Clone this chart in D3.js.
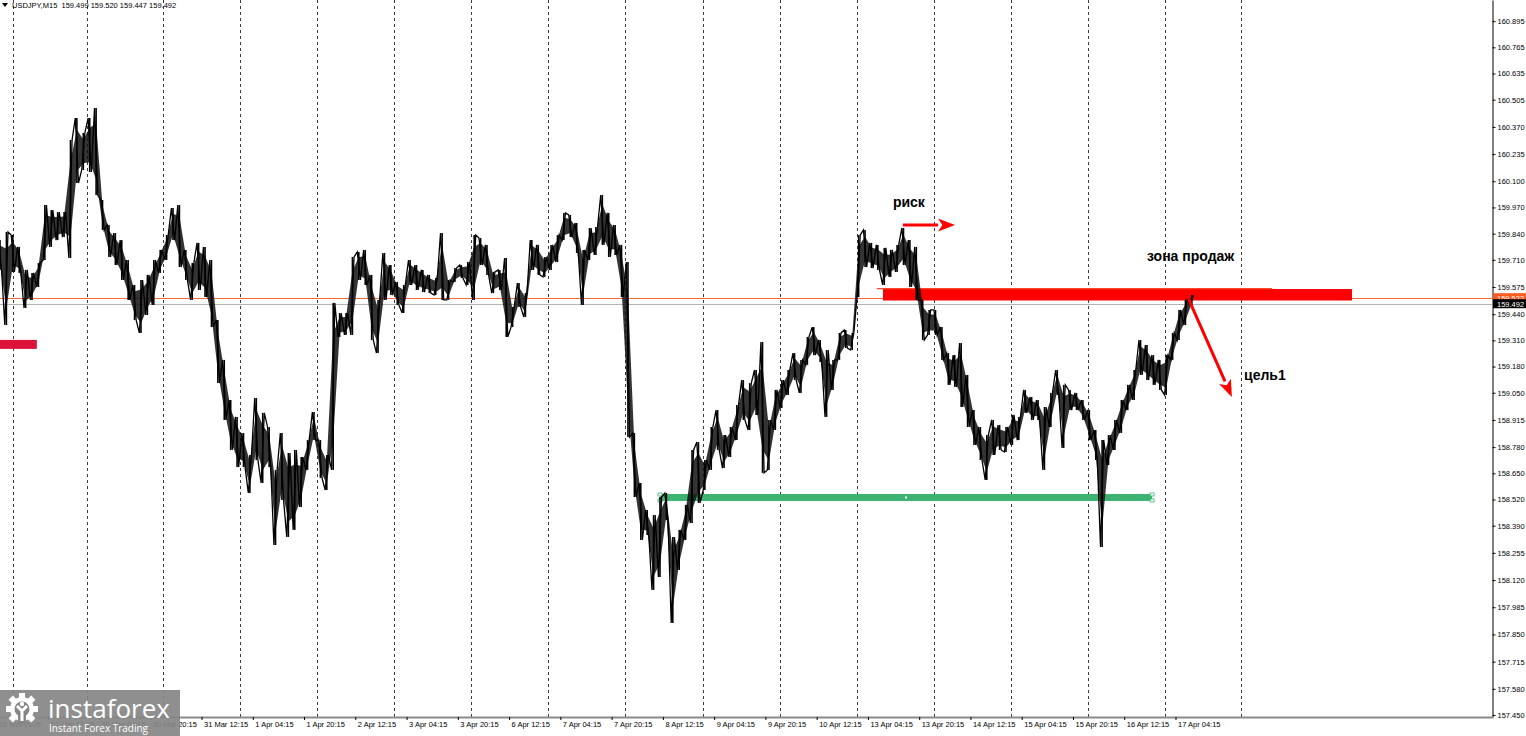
<!DOCTYPE html>
<html>
<head>
<meta charset="utf-8">
<script src="https://cdnjs.cloudflare.com/ajax/libs/d3/7.8.5/d3.min.js"></script>
<style>
  html, body { margin: 0; padding: 0; background: #fff; overflow: hidden; }
  svg { display: block; }
  .tick text { font-family: "Liberation Sans", Arial, sans-serif; font-size: 7.5px; fill: #000; }
</style>
</head>
<body>
<div id="chart"></div>
<script>

///////////////////////////////////////////////////////////////
//  Data  (USDJPY M15, high / low per 2 trading hours)
///////////////////////////////////////////////////////////////

const STEP_HOURS = 2;

const hiPrices = [
  159.808, 159.848, 159.833, 159.774, 159.660, 159.645, 159.694, 159.982, 159.957, 159.947,
  159.947, 160.305, 160.414, 160.340, 160.414, 160.464, 160.007, 159.883, 159.843, 159.808,
  159.709, 159.585, 159.610, 159.635, 159.709, 159.759, 159.833, 159.967, 159.982, 159.759,
  159.694, 159.794, 159.774, 159.709, 159.411, 159.213, 159.014, 158.930, 158.850, 158.741,
  159.024, 158.950, 158.880, 158.667, 158.850, 158.751, 158.766, 158.731, 158.815, 158.954,
  158.815, 158.741, 159.496, 159.446, 159.446, 159.724, 159.749, 159.759, 159.635, 159.511,
  159.744, 159.684, 159.600, 159.585, 159.709, 159.684, 159.660, 159.635, 159.620, 159.843,
  159.610, 159.669, 159.684, 159.699, 159.833, 159.818, 159.784, 159.650, 159.660, 159.719,
  159.476, 159.595, 159.545, 159.808, 159.784, 159.724, 159.784, 159.833, 159.943, 159.933,
  159.893, 159.759, 159.868, 159.873, 160.032, 159.943, 159.883, 159.784, 159.699, 158.850,
  158.602, 158.468, 158.443, 158.532, 158.552, 158.334, 158.369, 158.493, 158.766, 158.805,
  158.716, 158.880, 158.964, 158.840, 158.880, 158.989, 159.113, 159.098, 159.163, 159.302,
  158.915, 159.064, 159.113, 159.163, 159.247, 159.213, 159.327, 159.376, 159.312, 159.262,
  159.213, 159.347, 159.361, 159.347, 159.833, 159.858, 159.794, 159.784, 159.769, 159.759,
  159.784, 159.868, 159.808, 159.774, 159.511, 159.461, 159.461, 159.376, 159.247, 159.237,
  159.297, 159.138, 158.964, 158.880, 158.840, 158.915, 158.890, 158.880, 158.940, 158.930,
  159.064, 159.029, 159.014, 158.979, 159.049, 159.163, 159.089, 159.064, 159.049, 159.014,
  158.964, 158.865, 158.815, 158.840, 158.915, 159.014, 159.089, 159.163, 159.312, 159.287,
  159.237, 159.213, 159.237, 159.347, 159.461, 159.511, 159.535
];

const loPrices = [
  159.660, 159.386, 159.650, 159.645, 159.471, 159.511, 159.575, 159.709, 159.774, 159.808,
  159.823, 159.719, 160.091, 160.156, 160.146, 160.032, 159.858, 159.724, 159.684, 159.610,
  159.511, 159.411, 159.347, 159.436, 159.486, 159.645, 159.709, 159.808, 159.674, 159.610,
  159.511, 159.560, 159.525, 159.376, 159.098, 158.915, 158.766, 158.681, 158.681, 158.552,
  158.716, 158.602, 158.681, 158.294, 158.518, 158.334, 158.369, 158.483, 158.667, 158.815,
  158.627, 158.567, 158.667, 159.327, 159.337, 159.337, 159.610, 159.585, 159.312, 159.247,
  159.511, 159.535, 159.486, 159.446, 159.585, 159.560, 159.550, 159.545, 159.535, 159.511,
  159.511, 159.600, 159.620, 159.585, 159.511, 159.684, 159.635, 159.545, 159.560, 159.327,
  159.376, 159.476, 159.426, 159.660, 159.635, 159.625, 159.660, 159.699, 159.808, 159.823,
  159.744, 159.486, 159.709, 159.734, 159.784, 159.724, 159.734, 159.525, 158.830, 158.532,
  158.319, 158.344, 158.071, 158.135, 158.418, 157.907, 158.170, 158.319, 158.403, 158.503,
  158.567, 158.667, 158.766, 158.676, 158.731, 158.815, 158.915, 158.865, 158.940, 158.652,
  158.667, 158.865, 158.974, 159.039, 159.113, 159.049, 159.188, 159.237, 159.203, 158.930,
  159.064, 159.213, 159.272, 159.262, 159.525, 159.674, 159.669, 159.660, 159.585, 159.625,
  159.650, 159.684, 159.575, 159.511, 159.312, 159.337, 159.337, 159.213, 159.089, 159.079,
  158.979, 158.880, 158.791, 158.716, 158.617, 158.741, 158.766, 158.756, 158.791, 158.815,
  158.950, 158.915, 158.915, 158.667, 158.880, 159.039, 158.776, 158.964, 158.964, 158.915,
  158.815, 158.716, 158.284, 158.691, 158.766, 158.850, 158.964, 159.014, 159.138, 159.113,
  159.089, 159.064, 159.039, 159.213, 159.312, 159.386, 159.486
];

const priceTicks = [
  160.895, 160.765, 160.635, 160.505, 160.370, 160.235, 160.100, 159.970, 159.840,
  159.710, 159.575, 159.440, 159.310, 159.180, 159.050, 158.915, 158.780, 158.650,
  158.520, 158.390, 158.255, 158.120, 157.985, 157.850, 157.715, 157.580, 157.450
];

// one label every 16 trading hours
const LABEL_EVERY = 16;
const LABEL_SHIFT = -1.1;
const dateLabels = [
  "26 Mar 2026", "27 Mar 12:15", "30 Mar 04:15", "30 Mar 20:15", "31 Mar 12:15",
  "1 Apr 04:15", "1 Apr 20:15", "2 Apr 12:15", "3 Apr 04:15", "3 Apr 20:15",
  "6 Apr 12:15", "7 Apr 04:15", "7 Apr 20:15", "8 Apr 12:15", "9 Apr 04:15",
  "9 Apr 20:15", "10 Apr 12:15", "13 Apr 04:15", "13 Apr 20:15", "14 Apr 12:15",
  "15 Apr 04:15", "15 Apr 20:15", "16 Apr 12:15", "17 Apr 04:15"
];

// period separators (midnight), in trading hours from the first bar
const daySeparators = [4, 27, 51, 75, 99, 123, 147, 171, 195, 219.5, 243.5, 267.5, 291.5, 315.5, 339.5, 363.5, 387.5];

const symbolName = "USDJPY,M15";
const headerOhlc = [159.499, 159.520, 159.447, 159.492];
const levelPrice = 159.522;
const bidPrice = 159.492;

// objects drawn on the chart (time in trading hours, price)
const sellZone    = { t0: 275.6, t1: 422.0, top: 159.565, bottom: 159.508 };
const sellLine    = { t0: 273.7, t1: 397.0, price: 159.567 };
const supportLine = { t0: 206.0, t1: 359.6, price: 158.530 };
const oldLevel    = { t0: 0,     t1: 11.5,  price: 159.290 };
const riskArrow   = { t0: 281.8, p0: 159.883, t1: 298.1, p1: 159.883 };
const targetArrow = { t0: 371.1, p0: 159.511, t1: 384.5, p1: 159.029 };
const notes = [
  { text: "риск",        t: 278.7, price: 159.972 },
  { text: "зона продаж", t: 358.0, price: 159.704 },
  { text: "цель1",       t: 388.3, price: 159.113 }
];

///////////////////////////////////////////////////////////////
//  Setup
///////////////////////////////////////////////////////////////

const W = 1526, H = 736;
const plotW = 1492, plotH = 717;

const svg = d3.select("#chart").append("svg").attr("width", W).attr("height", H);

const x = d3.scaleLinear().domain([0, 466]).range([0, plotW + 1]);
const y = d3.scaleLinear().domain([157.44, 161.0]).range([plotH, 0]);

const px = v => Math.round(v) + 0.5;

const plot = svg.append("g");
plot.append("clipPath").attr("id", "clip")
    .append("rect").attr("width", plotW).attr("height", plotH);
const g = plot.append("g").attr("clip-path", "url(#clip)");

// period separators
g.selectAll(".sep").data(daySeparators).enter().append("line")
    .attr("x1", d => px(x(d))).attr("x2", d => px(x(d)))
    .attr("y1", 0).attr("y2", plotH)
    .attr("stroke", "#3a3a3a").attr("stroke-width", 1)
    .attr("stroke-dasharray", "3,3");

// horizontal levels
g.append("line").attr("x1", 0).attr("x2", plotW)
    .attr("y1", px(y(bidPrice))).attr("y2", px(y(bidPrice)))
    .attr("stroke", "#b4b4b4");
g.append("line").attr("x1", 0).attr("x2", plotW)
    .attr("y1", px(y(levelPrice))).attr("y2", px(y(levelPrice)))
    .attr("stroke", "#ff6a33");

// left crimson level
g.append("rect")
    .attr("x", x(oldLevel.t0)).attr("width", x(oldLevel.t1) - x(oldLevel.t0))
    .attr("y", y(oldLevel.price) - 4.5).attr("height", 9)
    .attr("fill", "#dc143c");

// support (green)
g.append("rect")
    .attr("x", x(supportLine.t0)).attr("width", x(supportLine.t1) - x(supportLine.t0))
    .attr("y", y(supportLine.price) - 3.5).attr("height", 7)
    .attr("fill", "#3cb371");
[supportLine.t0, supportLine.t1].forEach(t => {
  g.append("rect").attr("x", x(t) - 2).attr("width", 4)
      .attr("y", y(supportLine.price) - 4.5).attr("height", 3)
      .attr("fill", "#fff").attr("stroke", "#3cb371").attr("stroke-width", 0.8);
  g.append("rect").attr("x", x(t) - 2).attr("width", 4)
      .attr("y", y(supportLine.price) + 1.5).attr("height", 3)
      .attr("fill", "#fff").attr("stroke", "#3cb371").attr("stroke-width", 0.8);
});
g.append("rect")
    .attr("x", x((supportLine.t0 + supportLine.t1) / 2) - 1).attr("width", 2)
    .attr("y", y(supportLine.price) - 1).attr("height", 2).attr("fill", "#fff");

// sell zone (red)
g.append("rect")
    .attr("x", x(sellZone.t0)).attr("width", x(sellZone.t1) - x(sellZone.t0))
    .attr("y", y(sellZone.top)).attr("height", y(sellZone.bottom) - y(sellZone.top))
    .attr("fill", "#ff0000");
g.append("line")
    .attr("x1", x(sellLine.t0)).attr("x2", x(sellLine.t1))
    .attr("y1", y(sellLine.price)).attr("y2", y(sellLine.price))
    .attr("stroke", "#ff4a2a").attr("stroke-width", 1.2);

///////////////////////////////////////////////////////////////
//  Price
///////////////////////////////////////////////////////////////

const bars = hiPrices.map((h, i) => ({ t: i * STEP_HOURS, hi: h, lo: loPrices[i] }));

// body of the bars: band between the 2-hour highs and lows
const band = d3.area()
    .x(d => x(d.t))
    .y0(d => y(d.lo + (d.hi - d.lo) * 0.18))
    .y1(d => y(d.hi - (d.hi - d.lo) * 0.18));

g.append("path").attr("d", band(bars))
    .attr("fill", "#111").attr("opacity", 0.85);

// zig-zag through the extremes, ordered by the direction of the next step
let pts = [];
bars.forEach((b, i) => {
  const nb = bars[i + 1] || b;
  const falling = (nb.hi + nb.lo) < (b.hi + b.lo);
  const a = falling ? b.hi : b.lo, c = falling ? b.lo : b.hi;
  pts.push([x(b.t - 0.5), y(a)], [x(b.t + 0.5), y(c)]);
});

g.selectAll(".bar").data(bars).enter().append("line")
    .attr("x1", d => x(d.t)).attr("x2", d => x(d.t))
    .attr("y1", d => y(d.hi)).attr("y2", d => y(d.lo))
    .attr("stroke", "#000").attr("stroke-width", 1.6);

g.append("path")
    .attr("d", d3.line()(pts))
    .attr("fill", "none").attr("stroke", "#000").attr("stroke-width", 1.3)
    .attr("stroke-linejoin", "miter");

///////////////////////////////////////////////////////////////
//  Arrows and notes
///////////////////////////////////////////////////////////////

function arrow(a, head) {
  const x1 = x(a.t0), y1 = y(a.p0), x2 = x(a.t1), y2 = y(a.p1);
  const ang = Math.atan2(y2 - y1, x2 - x1);
  const bx = x2 - head * Math.cos(ang), by = y2 - head * Math.sin(ang);
  const nx = -Math.sin(ang) * head * 0.38, ny = Math.cos(ang) * head * 0.38;
  g.append("line").attr("x1", x1).attr("y1", y1).attr("x2", bx).attr("y2", by)
      .attr("stroke", "#ff0000").attr("stroke-width", 3);
  g.append("path")
      .attr("d", `M${x2},${y2}L${bx + nx},${by + ny}L${bx + (x2 - bx) * 0.25},${by + (y2 - by) * 0.25}L${bx - nx},${by - ny}Z`)
      .attr("fill", "#ff0000");
}
arrow(riskArrow, 17);
arrow(targetArrow, 17);

g.selectAll(".note").data(notes).enter().append("text")
    .attr("x", d => x(d.t)).attr("y", d => y(d.price))
    .attr("font-family", "'Liberation Sans', Arial, sans-serif")
    .attr("font-weight", "bold").attr("font-size", 14)
    .attr("fill", "#000")
    .text(d => d.text);

///////////////////////////////////////////////////////////////
//  Axes
///////////////////////////////////////////////////////////////

const yAxis = d3.axisRight(y).tickValues(priceTicks).tickSize(3).tickSizeOuter(0)
    .tickPadding(2).tickFormat(d3.format(".3f"));
const ya = svg.append("g").attr("transform", `translate(${plotW + 0.5},0)`).call(yAxis);
ya.select(".domain").attr("stroke", "#000");
ya.selectAll(".tick line").attr("stroke", "#000");

const xAxis = d3.axisBottom(x).tickValues(dateLabels.map((d, i) => i * LABEL_EVERY + LABEL_SHIFT))
    .tickSize(3).tickSizeOuter(0).tickFormat((d, i) => dateLabels[i]);
const xa = svg.append("g").attr("transform", `translate(0,${plotH})`).call(xAxis);
xa.select(".domain").attr("stroke", "#8a8a8a").attr("stroke-width", 2);
xa.selectAll(".tick line").attr("stroke", "#000");
xa.selectAll(".tick text").attr("text-anchor", "start").attr("dx", 2).attr("dy", "0.55em");

// price markers on the scale
[[levelPrice, "#ff5a1f"], [bidPrice, "#000"]].forEach(([p, c]) => {
  svg.append("rect").attr("x", plotW + 1).attr("width", W - plotW - 1)
      .attr("y", y(p) - 4.5).attr("height", 9).attr("fill", c);
  svg.append("text").attr("x", plotW + 5).attr("y", y(p) + 3)
      .attr("font-family", "'Liberation Sans', Arial, sans-serif").attr("font-size", 7.5)
      .attr("fill", "#fff").text(d3.format(".3f")(p));
});

// header
svg.append("path").attr("d", "M2,3L8,3L5,7Z").attr("fill", "#000");
svg.append("text").attr("x", 12).attr("y", 8)
    .attr("font-family", "'Liberation Sans', Arial, sans-serif").attr("font-size", 7.5)
    .attr("fill", "#000").attr("xml:space", "preserve")
    .text(symbolName + "  " + headerOhlc.map(d3.format(".3f")).join(" "));

///////////////////////////////////////////////////////////////
//  Watermark
///////////////////////////////////////////////////////////////

const logo = svg.append("g");
logo.append("rect").attr("x", 0).attr("y", 690).attr("width", 180).attr("height", 46)
    .attr("fill", "#858585").attr("opacity", 0.92);
const gear = logo.append("g").attr("transform", "translate(22,709)");
d3.range(8).forEach(k => gear.append("rect").attr("x", -3).attr("y", -16)
    .attr("width", 6).attr("height", 7).attr("fill", "#fff").attr("transform", `rotate(${k * 45})`));
gear.append("circle").attr("r", 12).attr("fill", "#fff");
gear.append("circle").attr("r", 7.5).attr("fill", "#858585");
gear.append("rect").attr("x", -4).attr("y", 6).attr("width", 8).attr("height", 10).attr("fill", "#858585");
gear.append("path").attr("d", "M-5,-3L0,2L5,-3M0,2L0,12").attr("stroke", "#fff")
    .attr("stroke-width", 3).attr("fill", "none");
gear.append("circle").attr("cy", -5).attr("r", 2.2).attr("fill", "#fff");
logo.append("text").attr("x", 48).attr("y", 718)
    .attr("font-family", "'Open Sans', sans-serif").attr("font-size", 26)
    .attr("textLength", 122).attr("lengthAdjust", "spacingAndGlyphs")
    .attr("fill", "#fff").text("instaforex");
logo.append("text").attr("x", 49).attr("y", 732)
    .attr("font-family", "'Open Sans', sans-serif").attr("font-size", 11)
    .attr("textLength", 99).attr("lengthAdjust", "spacingAndGlyphs")
    .attr("fill", "#fff").text("Instant Forex Trading");

</script>
</body>
</html>
